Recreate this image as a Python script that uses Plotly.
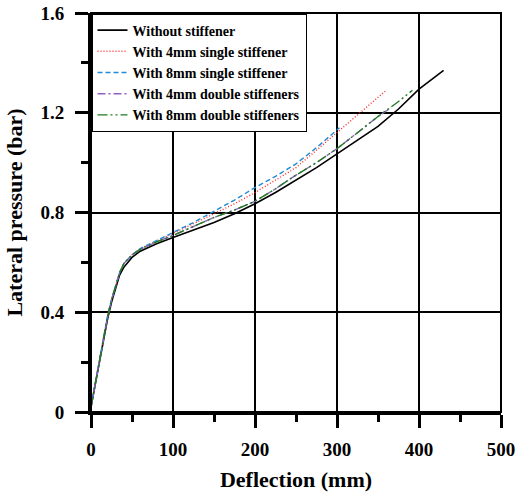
import plotly.graph_objects as go

# Data
x_without = [0, 5, 10, 15, 20, 25, 30, 35, 40, 50, 60, 70, 80, 100, 125, 150, 175, 200, 225, 250, 275, 300, 325, 350, 375, 400, 430]
y_without = [0.02, 0.11, 0.20, 0.29, 0.37, 0.44, 0.50, 0.55, 0.58, 0.62, 0.645, 0.66, 0.675, 0.70, 0.73, 0.76, 0.795, 0.835, 0.88, 0.93, 0.98, 1.035, 1.09, 1.145, 1.215, 1.295, 1.37]

x_4single = [0, 5, 10, 15, 20, 25, 30, 35, 40, 50, 60, 70, 80, 100, 125, 150, 175, 200, 225, 250, 275, 300, 325, 350, 360]
y_4single = [0.02, 0.11, 0.21, 0.30, 0.38, 0.45, 0.51, 0.56, 0.595, 0.63, 0.655, 0.67, 0.685, 0.715, 0.755, 0.795, 0.835, 0.88, 0.93, 0.98, 1.05, 1.12, 1.19, 1.26, 1.29]

x_8single = [0, 5, 10, 15, 20, 25, 30, 35, 40, 50, 60, 70, 80, 100, 125, 150, 175, 200, 225, 250, 275, 303]
y_8single = [0.02, 0.11, 0.21, 0.30, 0.38, 0.45, 0.51, 0.56, 0.595, 0.63, 0.655, 0.672, 0.688, 0.72, 0.76, 0.805, 0.85, 0.90, 0.945, 0.995, 1.06, 1.14]

x_4double = [0, 5, 10, 15, 20, 25, 30, 35, 40, 50, 60, 70, 80, 100, 125, 150, 175, 200, 225, 250, 275, 300, 325, 350, 366]
y_4double = [0.02, 0.11, 0.21, 0.30, 0.38, 0.45, 0.51, 0.56, 0.595, 0.63, 0.652, 0.668, 0.682, 0.708, 0.745, 0.78, 0.81, 0.845, 0.895, 0.95, 1.00, 1.056, 1.12, 1.185, 1.22]

x_8double = [0, 5, 10, 15, 20, 25, 30, 35, 40, 50, 60, 70, 80, 100, 125, 150, 175, 200, 225, 250, 275, 300, 325, 350, 375, 392]
y_8double = [0.02, 0.11, 0.21, 0.30, 0.38, 0.45, 0.51, 0.56, 0.595, 0.63, 0.652, 0.668, 0.682, 0.708, 0.745, 0.78, 0.81, 0.845, 0.895, 0.95, 1.00, 1.056, 1.12, 1.185, 1.245, 1.29]

names = ["Without stiffener", "With 4mm single stiffener", "With 8mm single stiffener",
         "With 4mm double stiffeners", "With 8mm double stiffeners"]

FONT = "Liberation Serif, Times New Roman, serif"

fig = go.Figure()
series = [
    (x_without, y_without, "black", "solid", 1.6),
    (x_4single, y_4single, "#ff2a2a", "1px,2px", 1.4),
    (x_8single, y_8single, "#1f8ad6", "5px,3px", 1.4),
    (x_4double, y_4double, "#9060c8", "8px,3px,2px,3px", 1.4),
    (x_8double, y_8double, "#1e7a1e", "10px,3px,2px,3px,2px,3px", 1.4),
]
for (xs, ys, col, dash, w), nm in zip(series, names):
    fig.add_trace(go.Scatter(x=xs, y=ys, mode="lines", name=nm,
                             line=dict(color=col, dash=dash, width=w)))

fig.update_layout(
    width=516, height=492,
    margin=dict(l=91, r=15, t=13, b=80, autoexpand=False),
    plot_bgcolor="white", paper_bgcolor="white",
    font=dict(family=FONT, color="black"),
    showlegend=True,
    legend=dict(x=0, y=1, xanchor="left", yanchor="top",
                bgcolor="white", bordercolor="black", borderwidth=1.5,
                font=dict(family=FONT, size=14, weight="bold"),
                tracegroupgap=0),
    shapes=[dict(type="rect", xref="paper", yref="paper", x0=0, y0=0, x1=1, y1=1,
                 line=dict(color="black", width=2), fillcolor="rgba(0,0,0,0)", layer="above")],
)
fig.update_xaxes(
    range=[0, 500], tickmode="linear", tick0=0, dtick=100, automargin=False,
    showline=True, linecolor="black", linewidth=3,
    ticks="outside", ticklen=13, tickwidth=2.5, tickcolor="black",
    minor=dict(dtick=50, ticks="outside", ticklen=7, tickwidth=2.5, tickcolor="black", showgrid=False),
    showgrid=True, gridcolor="black", gridwidth=1.5, zeroline=False,
    ticklabelstandoff=5,
    tickfont=dict(family=FONT, size=19, weight="bold"),
    title=dict(text="Deflection (mm)", font=dict(family=FONT, size=22, weight="bold"), standoff=16),
)
fig.update_yaxes(
    range=[0, 1.6], tickmode="linear", tick0=0, dtick=0.4, automargin=False,
    showline=True, linecolor="black", linewidth=3,
    ticks="outside", ticklen=13, tickwidth=2.5, tickcolor="black",
    minor=dict(dtick=0.2, ticks="outside", ticklen=7, tickwidth=2.5, tickcolor="black", showgrid=False),
    showgrid=True, gridcolor="black", gridwidth=1.5, zeroline=False,
    tickformat="~g", ticklabelstandoff=7,
    tickfont=dict(family=FONT, size=19, weight="bold"),
    title=dict(text="Lateral pressure (bar)", font=dict(family=FONT, size=22, weight="bold"), standoff=12),
)

fig.write_html("out.html")
